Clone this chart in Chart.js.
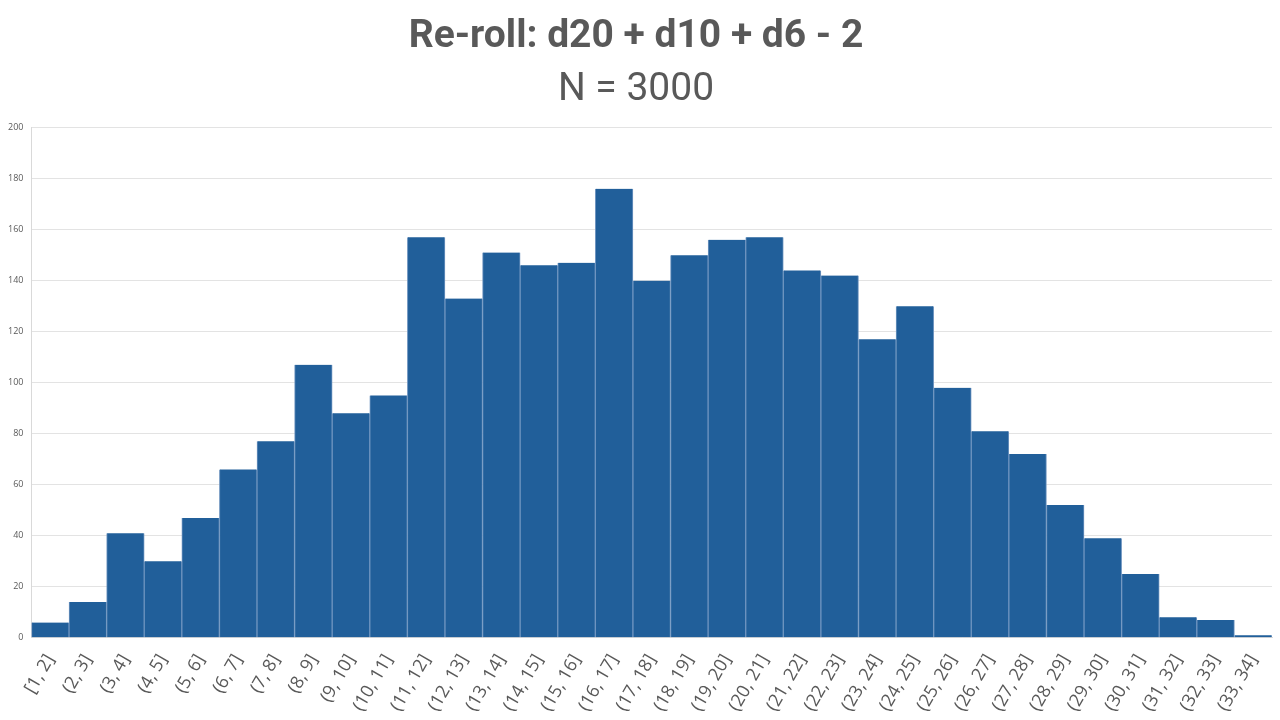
<!DOCTYPE html>
<html>
<head>
<meta charset="utf-8">
<script src="https://cdn.jsdelivr.net/npm/chart.js@4"></script>
<style>
  html, body { margin: 0; padding: 0; background: #fff; }
  #wrap { width: 1280px; height: 720px; }
</style>
</head>
<body>
<div id="wrap"><canvas id="histo" width="1280" height="720"></canvas></div>
<script>
// Bin labels
const binLabels = [
  "[1, 2]", "(2, 3]", "(3, 4]", "(4, 5]", "(5, 6]", "(6, 7]", "(7, 8]", "(8, 9]",
  "(9, 10]", "(10, 11]", "(11, 12]", "(12, 13]", "(13, 14]", "(14, 15]", "(15, 16]",
  "(16, 17]", "(17, 18]", "(18, 19]", "(19, 20]", "(20, 21]", "(21, 22]", "(22, 23]",
  "(23, 24]", "(24, 25]", "(25, 26]", "(26, 27]", "(27, 28]", "(28, 29]", "(29, 30]",
  "(30, 31]", "(31, 32]", "(32, 33]", "(33, 34]"
];

// Counts per bin
const binCounts = [
  6, 14, 41, 30, 47, 66, 77, 107, 88, 95,
  157, 133, 151, 146, 147, 176, 140, 150, 156, 157,
  144, 142, 117, 130, 98, 81, 72, 52, 39, 25,
  8, 7, 1
];

const yTicks = { min: 0, max: 200, step: 20 };

const ctx = document.getElementById("histo").getContext("2d");
const histChart = new Chart(ctx, {
  type: "bar",
  data: {
    labels: binLabels,
    datasets: [
      {
        data: binCounts,
        backgroundColor: "#215f9a",
        borderColor: "#6f95c0",
        borderWidth: { left: 1, right: 1, top: 0, bottom: 0 },
        categoryPercentage: 1.0,
        barPercentage: 1.0,
      },
    ],
  },
  options: {
    responsive: false,
    animation: false,
    layout: { padding: { left: 0, right: 8, top: 12, bottom: 0 } },
    plugins: {
      legend: { display: false },
      tooltip: { enabled: false },
      title: {
        display: true,
        text: "Re-roll: d20 + d10 + d6 - 2",
        color: "#595959",
        font: { family: "Roboto", size: 39, weight: "bold" },
        padding: { top: 2, bottom: 6 },
      },
      subtitle: {
        display: true,
        text: "N = 3000",
        color: "#595959",
        font: { family: "Roboto", size: 39, weight: "normal" },
        padding: { bottom: 14 },
      },
    },
    scales: {
      x: {
        grid: { display: false },
        border: { color: "#d9d9d9" },
        ticks: {
          color: "#595959",
          font: { family: "Open Sans", size: 18 },
          maxRotation: 60,
          minRotation: 60,
          autoSkip: false,
          padding: 5,
        },
      },
      y: {
        min: yTicks.min,
        max: yTicks.max,
        grid: { color: "#e3e3e3", drawTicks: false },
        border: { color: "#d9d9d9" },
        ticks: {
          stepSize: yTicks.step,
          color: "#595959",
          font: { family: "Open Sans", size: 9 },
          padding: 8,
        },
      },
    },
  },
});
</script>
</body>
</html>
